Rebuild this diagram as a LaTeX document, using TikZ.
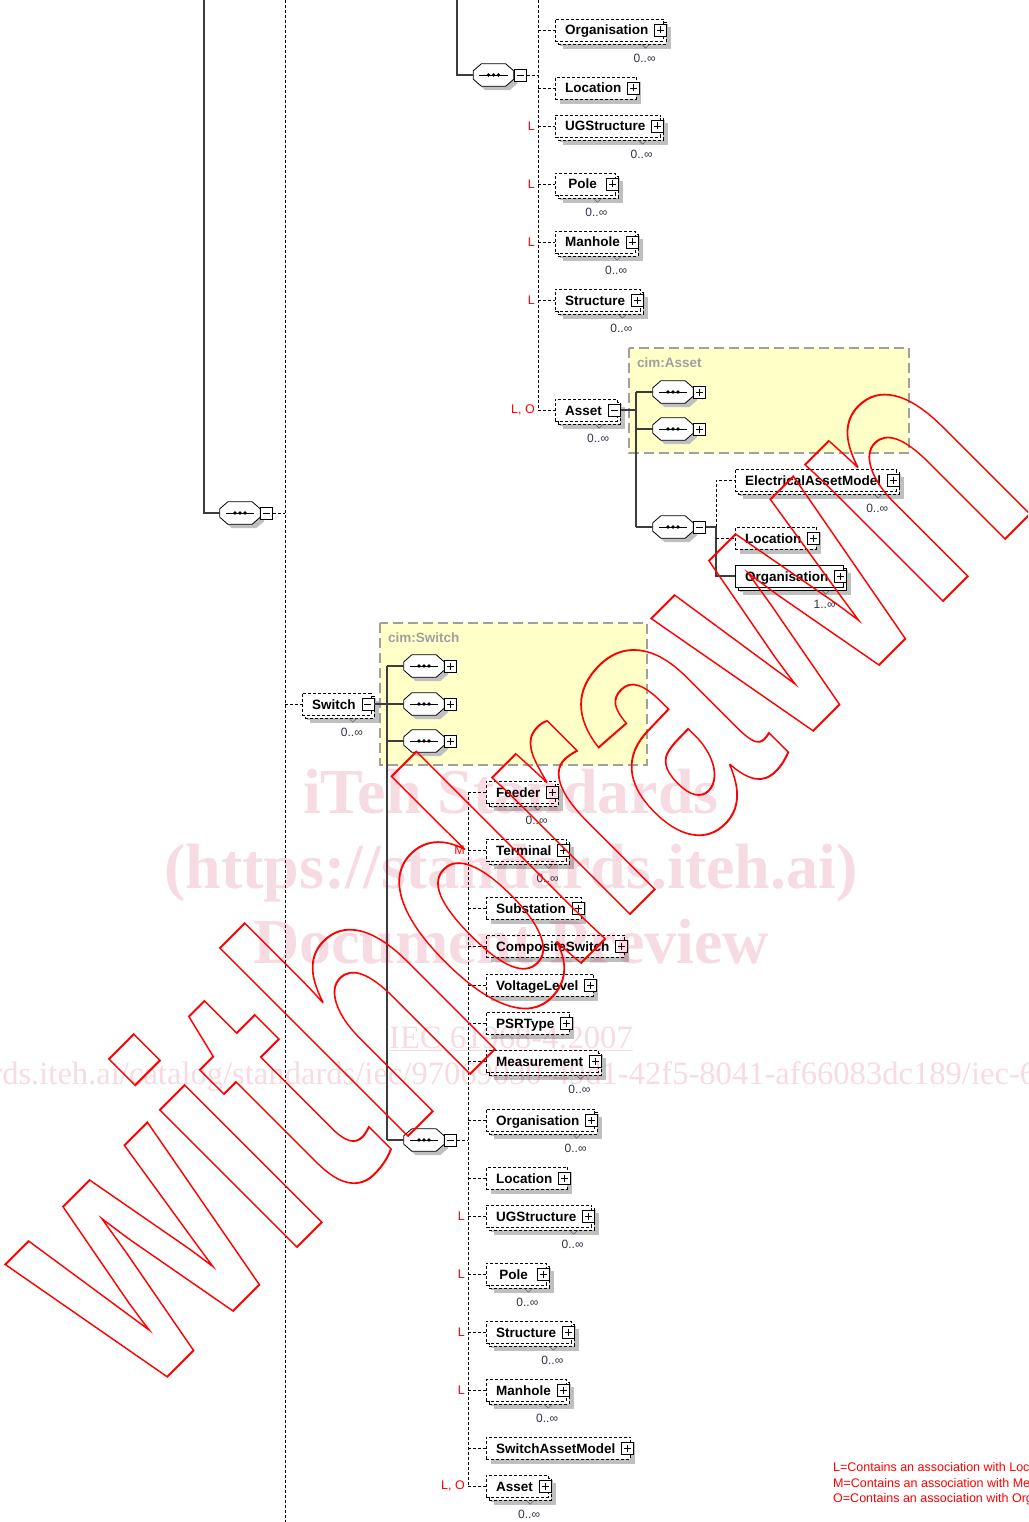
\documentclass[tikz,border=0pt]{standalone}
\usepackage{fontspec}
\setmainfont{Liberation Sans}
\newfontfamily\wmserif{Liberation Serif}
\newfontfamily\wmsans{Liberation Sans}
\usetikzlibrary{shadows}
\definecolor{schemayellow}{RGB}{255,255,200}
\definecolor{framegrey}{RGB}{160,160,160}
\definecolor{linegrey}{RGB}{60,60,60}
\definecolor{cardgrey}{RGB}{50,50,70}
\definecolor{wmpink}{RGB}{200,0,50}

\tikzset{
  elem/.style={draw, dash pattern=on 3pt off 2pt, fill=white, anchor=west,
    font=\fontsize{13.5}{16}\selectfont\bfseries, inner xsep=10pt, inner ysep=0pt,
    minimum height=22pt, minimum width=60pt, text height=12pt, text depth=2pt,
    drop shadow={shadow xshift=5pt, shadow yshift=-5pt, fill=black!25, opacity=1}},
  elemreq/.style={elem, solid},
  stack/.style={drop shadow={shadow xshift=8pt, shadow yshift=-8pt, fill=black!25, opacity=1},
    copy shadow={shadow xshift=3pt, shadow yshift=-3pt, fill=white, draw, #1}},
  stack/.default={dash pattern=on 3pt off 2pt},
  expbox/.style={draw, solid, fill=white, minimum width=12pt, minimum height=12pt,
    inner sep=0pt, line width=0.8pt},
  plusbox/.style={expbox, path picture={
      \draw[solid] ([xshift=2.5pt]path picture bounding box.west) -- ([xshift=-2.5pt]path picture bounding box.east)
            ([yshift=-2.5pt]path picture bounding box.north) -- ([yshift=2.5pt]path picture bounding box.south);}},
  minusbox/.style={expbox, path picture={
      \draw[solid] ([xshift=2.5pt]path picture bounding box.west) -- ([xshift=-2.5pt]path picture bounding box.east);}},
  seq/.style={minimum width=40pt, minimum height=22pt, inner sep=0pt},
  seqshape/.style={draw, solid, fill=white, line width=0.8pt,
    drop shadow={shadow xshift=4pt, shadow yshift=-4pt, fill=black!25, opacity=1}},
  card/.style={font=\fontsize{12}{14}\selectfont, text=cardgrey, inner sep=0pt},
  assoc/.style={font=\fontsize{12.5}{14}\selectfont, text=red, anchor=east, inner sep=0pt},
  conn/.style={draw=linegrey, line width=1.1pt},
  optconn/.style={draw=black, line width=0.8pt, dash pattern=on 3pt off 2pt},
  schema/.style={draw=framegrey, fill=schemayellow, line width=1.2pt, dash pattern=on 10pt off 5pt},
  schemalabel/.style={text=framegrey, font=\fontsize{13.5}{16}\selectfont\bfseries, anchor=west, inner sep=0pt},
  legend/.style={font=\fontsize{12.5}{14}\selectfont, text=red, anchor=west, inner sep=0pt},
  wmark/.style={text=wmpink, text opacity=0.14, anchor=base, inner sep=0pt,
    font=\wmserif\fontsize{64}{70}\selectfont\bfseries}
}

% element box: #1 name, #2 west point, #3 label, #4 box style, #5 expander, #6 cardinality
\newcommand{\elem}[6]{%
  \node[#4] (#1) at #2 {#3\kern5pt};
  \node[#5] (#1x) at ([xshift=-3pt]#1.east) {};
  \if\relax\detokenize{#6}\relax\else
    \draw[black!70] ([xshift=-22pt,yshift=-3pt]#1.south east) -- ++(4,4) -- ++(4,-4);
    \node[card] at ([xshift=-19pt,yshift=-28pt]#1.east) {#6};
  \fi}
% sequence compositor: #1 name, #2 centre, #3 expander
\newcommand{\seqnode}[3]{%
  \node[seq] (#1) at #2 {};
  \path[seqshape] ([xshift=8pt]#1.north west) -- ([xshift=-8pt]#1.north east)
    -- ([yshift=-7pt]#1.north east) -- ([yshift=7pt]#1.south east)
    -- ([xshift=-8pt]#1.south east) -- ([xshift=8pt]#1.south west)
    -- ([yshift=7pt]#1.south west) -- ([yshift=-7pt]#1.north west) -- cycle;
  \draw[line width=0.8pt] ([xshift=6pt]#1.west) -- ([xshift=-6pt]#1.east);
  \foreach \dx in {-5,0,5}
    \fill ([xshift=\dx pt]#1.center) circle (1.8pt);
  \node[#3, anchor=west] (#1x) at (#1.east) {};}

\begin{document}
\begin{tikzpicture}[x=1pt, y=-1pt]
  \useasboundingbox (0,0) rectangle (1028,1522);
  \clip (0,0) rectangle (1028,1522);
  \fill[white] (0,0) rectangle (1028,1522);

  % schema frames
  \draw[schema] (629,348) rectangle (909,453);
  \node[schemalabel] at (637,363) {cim:Asset};
  \draw[schema] (380,623) rectangle (647,765);
  \node[schemalabel] at (388,638) {cim:Switch};

  % free ends
  \coordinate (lefttop) at (204,0);
  \coordinate (midtop) at (457,0);
  \coordinate (mainspine) at (285,0);
  \coordinate (mainspinebot) at (285,1522);
  \coordinate (uspine) at (538,0);
  \coordinate (aspine) at (636,0);
  \coordinate (bspine) at (716,0);
  \coordinate (swspine) at (387,0);
  \coordinate (lspine) at (468,0);

  % compositors
  \seqnode{seqL}{(240,513)}{minusbox}
  \seqnode{seqT}{(493.5,75)}{minusbox}
  \seqnode{seqA1}{(673,392)}{plusbox}
  \seqnode{seqA2}{(673,429)}{plusbox}
  \seqnode{seqA3}{(673,527)}{minusbox}
  \seqnode{sq1}{(424,666)}{plusbox}
  \seqnode{sq2}{(424,704)}{plusbox}
  \seqnode{sq3}{(424,741)}{plusbox}
  \seqnode{sq4}{(424,1140)}{minusbox}

  % upper element list
  \elem{orgT}{(555,30)}{Organisation}{elem,stack}{plusbox}{0..∞}
  \elem{locT}{(555,88)}{Location}{elem}{plusbox}{}
  \elem{ugsT}{(555,126)}{UGStructure}{elem,stack}{plusbox}{0..∞}
  \elem{poleT}{(555,184)}{Pole}{elem,stack}{plusbox}{0..∞}
  \elem{manT}{(555,242)}{Manhole}{elem,stack}{plusbox}{0..∞}
  \elem{strT}{(555,300)}{Structure}{elem,stack}{plusbox}{0..∞}
  \elem{assetT}{(555,410)}{Asset}{elem,stack}{minusbox}{0..∞}
  \elem{eam}{(735,480)}{ElectricalAssetModel}{elem,stack}{plusbox}{0..∞}
  \elem{locA}{(735,538)}{Location}{elem}{plusbox}{}
  \elem{orgA}{(735,576)}{Organisation}{elemreq,stack=solid}{plusbox}{1..∞}

  % switch and its list
  \elem{switch}{(302,704)}{Switch}{elem,stack}{minusbox}{0..∞}
  \elem{feed}{(486,792)}{Feeder}{elem,stack}{plusbox}{0..∞}
  \elem{term}{(486,850)}{Terminal}{elem,stack}{plusbox}{0..∞}
  \elem{subst}{(486,908)}{Substation}{elem}{plusbox}{}
  \elem{comp}{(486,946)}{CompositeSwitch}{elem}{plusbox}{}
  \elem{volt}{(486,985)}{VoltageLevel}{elem}{plusbox}{}
  \elem{psr}{(486,1023)}{PSRType}{elem}{plusbox}{}
  \elem{meas}{(486,1061)}{Measurement}{elem,stack}{plusbox}{0..∞}
  \elem{orgB}{(486,1120)}{Organisation}{elem,stack}{plusbox}{0..∞}
  \elem{locB}{(486,1178)}{Location}{elem}{plusbox}{}
  \elem{ugsB}{(486,1216)}{UGStructure}{elem,stack}{plusbox}{0..∞}
  \elem{poleB}{(486,1274)}{Pole}{elem,stack}{plusbox}{0..∞}
  \elem{strB}{(486,1332)}{Structure}{elem,stack}{plusbox}{0..∞}
  \elem{manB}{(486,1390)}{Manhole}{elem,stack}{plusbox}{0..∞}
  \elem{sam}{(486,1448)}{SwitchAssetModel}{elem}{plusbox}{}
  \elem{assetB}{(486,1486)}{Asset}{elem,stack}{plusbox}{0..∞}

  % left branch
  \draw[conn] (lefttop) |- (seqL.west);
  \draw[optconn] (seqLx.east) -- (mainspine |- seqLx.east);
  \draw[optconn] (mainspine) -- (mainspinebot);
  % upper branch
  \draw[conn] (midtop) |- (seqT.west);
  \draw[optconn] (seqTx.east) -- (uspine |- seqTx.east);
  \draw[optconn] (uspine) -- (uspine |- assetT.west);
  \foreach \n in {orgT,locT,ugsT,poleT,manT,strT,assetT}
    \draw[optconn] (uspine |- \n.west) -- (\n.west);
  % asset content
  \draw[conn] (assetTx.east) -- (aspine |- assetTx.east);
  \draw[conn] (aspine |- seqA1.west) -- (aspine |- seqA3.west);
  \foreach \n in {seqA1,seqA2,seqA3}
    \draw[conn] (aspine |- \n.west) -- (\n.west);
  \draw[conn] (seqA3x.east) -- (bspine |- seqA3x.east) |- (orgA.west);
  \draw[optconn] (bspine |- seqA3x.east) |- (eam.west);
  \draw[optconn] (bspine |- locA.west) -- (locA.west);
  % switch branch
  \draw[optconn] (mainspine |- switch.west) -- (switch.west);
  \draw[conn] (switchx.east) -- (swspine |- switchx.east);
  \draw[conn] (swspine |- sq1.west) -- (swspine |- sq4.west);
  \foreach \n in {sq1,sq2,sq3,sq4}
    \draw[conn] (swspine |- \n.west) -- (\n.west);
  \draw[optconn] (sq4x.east) -- (lspine |- sq4x.east);
  \draw[optconn] (lspine |- feed.west) -- (lspine |- assetB.west);
  \foreach \n in {feed,term,subst,comp,volt,psr,meas,orgB,locB,ugsB,poleB,strB,manB,sam,assetB}
    \draw[optconn] (lspine |- \n.west) -- (\n.west);

  % association marks
  \foreach \n/\t in {ugsT/L,poleT/L,manT/L,strT/L,assetT/{L, O}}
    \node[assoc] at ([xshift=-20pt]\n.west) {\t};
  \foreach \n/\t in {term/M,ugsB/L,poleB/L,strB/L,manB/L,assetB/{L, O}}
    \node[assoc] at ([xshift=-21pt]\n.west) {\t};

  % legend
  \node[legend] (leg1) at (833,1467) {L=Contains an association with Location};
  \node[legend] (leg2) at (833,1483) {M=Contains an association with Measurement};
  \node[legend] (leg3) at (833,1499) {O=Contains an association with Organisation};

  % watermarks
  \node[wmark] (wm1) at (511,813) {iTeh Standards};
  \node[wmark] (wm2) at (511,888) {(https://standards.iteh.ai)};
  \node[wmark] (wm3) at (511,963) {Document Preview};
  \node[wmark, font=\wmserif\fontsize{32.6}{36}\selectfont] (wm4) at (511,1048) {\underline{IEC 61968-4:2007}};
  \node[wmark, font=\wmserif\fontsize{32.6}{36}\selectfont] (wm5) at (511,1084)
    {https://standards.iteh.ai/catalog/standards/iec/97069030-49d1-42f5-8041-af66083dc189/iec-61968-4-2007};
  \node[text=red, inner sep=0pt, anchor=base, rotate=45,
        font=\wmsans\fontsize{367}{400}\selectfont\bfseries] (wd) at (592,952)
    {\special{pdf:literal direct 1 Tr 2 w}\scalebox{0.7}[1]{withdrawn}\special{pdf:literal direct 0 Tr}};
\end{tikzpicture}
\end{document}
